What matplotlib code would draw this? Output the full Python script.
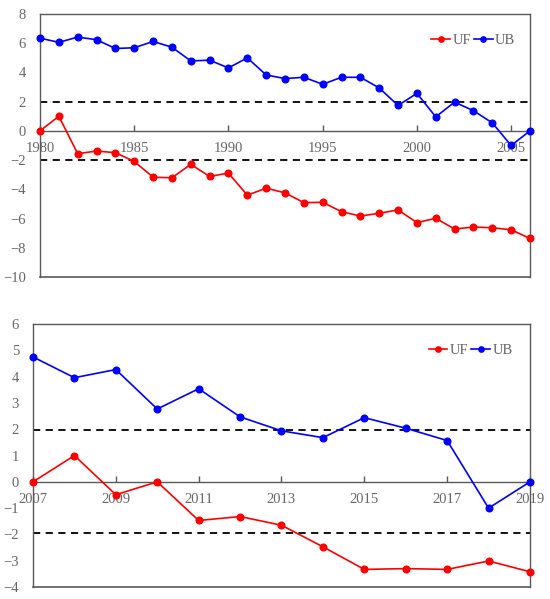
import matplotlib
matplotlib.use("Agg")
import matplotlib.pyplot as plt
from matplotlib.lines import Line2D

plt.rcParams['font.family'] = ['Liberation Serif', 'DejaVu Serif']

years1 = list(range(1980, 2007))
ub1 = [6.35, 6.06, 6.42, 6.24, 5.64, 5.69, 6.12, 5.73, 4.79, 4.84, 4.31, 5.0, 3.83,
       3.58, 3.67, 3.19, 3.67, 3.67, 2.94, 1.74, 2.57, 0.96, 1.97, 1.38, 0.55, -1.0, 0.0]
uf1 = [0.0, 1.0, -1.56, -1.38, -1.49, -2.09, -3.17, -3.21, -2.29, -3.12, -2.89, -4.4, -3.92,
       -4.24, -4.91, -4.89, -5.53, -5.83, -5.64, -5.41, -6.28, -5.98, -6.72, -6.58, -6.63, -6.77, -7.36]
xticks1 = [1980, 1985, 1990, 1995, 2000, 2005]
yticks1 = [-10, -8, -6, -4, -2, 0, 2, 4, 6, 8]

years2 = list(range(2007, 2020))
ub2 = [4.75, 3.96, 4.27, 2.77, 3.54, 2.47, 1.94, 1.68, 2.44, 2.04, 1.57, -1.0, 0.0]
uf2 = [0.0, 1.0, -0.49, 0.0, -1.47, -1.32, -1.65, -2.47, -3.33, -3.30, -3.33, -3.01, -3.42]
xticks2 = [2007, 2009, 2011, 2013, 2015, 2017, 2019]
yticks2 = [-4, -3, -2, -1, 0, 1, 2, 3, 4, 5, 6]

crit = 1.96

fig = plt.figure(figsize=(5.5, 5.99), dpi=100)
ax1 = fig.add_axes([0.0727, 0.5376, 0.8909, 0.439])
ax2 = fig.add_axes([0.06, 0.02, 0.9036, 0.439])

spine_col = '#595959'
lab_col = '#666666'

def style(ax, years, uf, ub, xticks, yticks, leg_anchor):
    ax.plot(years, uf, color='#ff0000', marker='o', markersize=4.8, linewidth=1.2, label='UF', clip_on=False, zorder=4)
    ax.plot(years, ub, color='#0000ff', marker='o', markersize=4.8, linewidth=1.2, label='UB', clip_on=False, zorder=4)
    ax.axhline(crit, color='black', linestyle=(0, (4, 3)), linewidth=1.3, zorder=2)
    ax.axhline(-crit, color='black', linestyle=(0, (4, 3)), linewidth=1.3, zorder=2)
    ax.set_xlim(years[0], years[-1])
    ax.set_ylim(yticks[0], yticks[-1])
    ax.set_xticks(xticks)
    ax.set_yticks(yticks)
    ax.set_yticklabels([('\u2212' + str(-t)) if t < 0 else str(t) for t in yticks])
    ax.spines['bottom'].set_position(('data', 0))
    for s in ax.spines.values():
        s.set_color(spine_col)
        s.set_linewidth(1.0)
    ax.add_line(Line2D([0, 1], [0, 0], transform=ax.transAxes, color=spine_col, linewidth=1.2, clip_on=False))
    ax.tick_params(axis='x', direction='in', length=4, width=1, color=spine_col, labelcolor=lab_col,
                   labelsize=10.5, pad=8)
    ax.tick_params(axis='y', length=0, labelcolor=lab_col, labelsize=10.5, pad=10)
    leg = ax.legend(loc='upper right', bbox_to_anchor=leg_anchor, ncol=2, frameon=False, fontsize=10.5,
                    handlelength=1.3, handletextpad=0.15, columnspacing=0.2, borderaxespad=0,
                    borderpad=0, markerscale=0.8)
    for t in leg.get_texts():
        t.set_color(lab_col)

style(ax1, years1, uf1, ub1, xticks1, yticks1, (0.97, 0.925))
style(ax2, years2, uf2, ub2, xticks2, yticks2, (0.965, 0.925))

fig.savefig('out.png', dpi=100)
